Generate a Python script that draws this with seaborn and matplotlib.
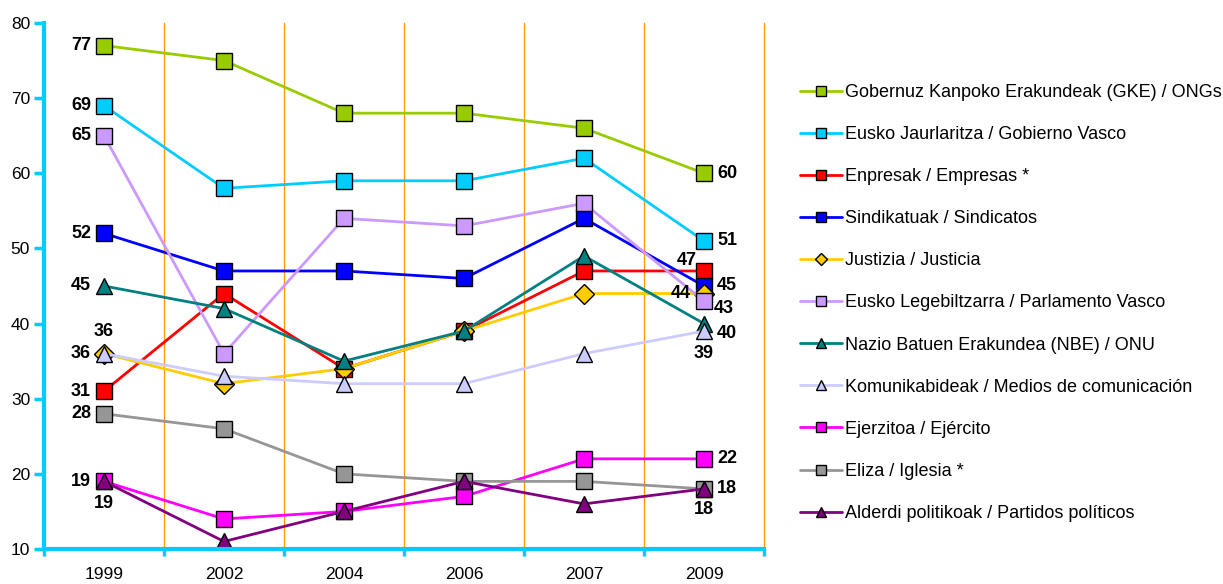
import matplotlib
matplotlib.use("Agg")
import matplotlib.pyplot as plt
from matplotlib.lines import Line2D
import numpy as np
import seaborn as sns

years = ["1999", "2002", "2004", "2006", "2007", "2009"]

series_names = [
    "Gobernuz Kanpoko Erakundeak (GKE) / ONGs",
    "Eusko Jaurlaritza / Gobierno Vasco",
    "Enpresak / Empresas *",
    "Sindikatuak / Sindicatos",
    "Justizia / Justicia",
    "Eusko Legebiltzarra / Parlamento Vasco",
    "Nazio Batuen Erakundea (NBE) / ONU",
    "Komunikabideak / Medios de comunicación",
    "Ejerzitoa / Ejército",
    "Eliza / Iglesia *",
    "Alderdi politikoak / Partidos políticos",
]

gke = [77, 75, 68, 68, 66, 60]
gobierno = [69, 58, 59, 59, 62, 51]
empresas = [31, 44, 34, 39, 47, 47]
sindicatos = [52, 47, 47, 46, 54, 45]
justicia = [36, 32, 34, 39, 44, 44]
parlamento = [65, 36, 54, 53, 56, 43]
onu = [45, 42, 35, 39, 49, 40]
medios = [36, 33, 32, 32, 36, 39]
ejercito = [19, 14, 15, 17, 22, 22]
iglesia = [28, 26, 20, 19, 19, 18]
partidos = [19, 11, 15, 19, 16, 18]

values = [gke, gobierno, empresas, sindicatos, justicia, parlamento,
          onu, medios, ejercito, iglesia, partidos]

colors = ["#99CC00", "#00CCFF", "#FF0000", "#0000FF", "#FFCC00", "#CC99FF",
          "#008080", "#CCCCFF", "#FF00FF", "#969696", "#800080"]
markers = ["s", "s", "s", "s", "D", "s", "^", "^", "s", "s", "^"]

# labelled points: (series index, year index), placement below
labelled = [(0, 0), (1, 0), (5, 0), (3, 0), (6, 0), (4, 0), (7, 0), (2, 0),
            (9, 0), (8, 0), (10, 0),
            (0, 5), (1, 5), (2, 5), (3, 5), (4, 5), (5, 5), (6, 5), (7, 5),
            (8, 5), (9, 5), (10, 5)]
placement = {
    (4, 0): (0, 22, "center"), (10, 0): (0, -22, "center"),
    (2, 5): (-17, 10, "center"), (4, 5): (-13, 0, "right"),
    (5, 5): (10, -7, "left"), (6, 5): (13, -10, "left"),
    (7, 5): (0, -22, "center"), (10, 5): (0, -21, "center"),
}

sns.set_style("white")
plt.rcParams["font.family"] = ["Liberation Sans", "DejaVu Sans"]
plt.rcParams["text.color"] = "black"
plt.rcParams["xtick.color"] = "black"
plt.rcParams["ytick.color"] = "black"

fig = plt.figure(figsize=(12.23, 5.84), dpi=100)
ax = fig.add_axes([44 / 1223, 1 - 549 / 584, 720 / 1223, 526 / 584])

x = np.arange(len(years))
for name, vals, c, m in zip(series_names, values, colors, markers):
    ms = 10 if m == "D" else 11.5
    sns.lineplot(x=x, y=vals, ax=ax, color=c, marker=m, markersize=ms,
                 markeredgecolor="black", markeredgewidth=1, linewidth=2,
                 legend=False, zorder=3)

for si, yi in labelled:
    v = values[si][yi]
    if (si, yi) in placement:
        dx, dy, ha = placement[(si, yi)]
    elif yi == 0:
        dx, dy, ha = -13, 0, "right"
    else:
        dx, dy, ha = 13, 0, "left"
    ax.annotate(str(v), (x[yi], v), xytext=(dx, dy), textcoords="offset pixels",
                ha=ha, va="center", fontsize=13, fontweight="bold",
                color="black", zorder=5)

for b in np.arange(0.5, len(years), 1):
    ax.axvline(b, color="#FF9900", linewidth=1, zorder=1, clip_on=False)

ax.set_xlim(-0.5, len(years) - 0.5)
ax.set_ylim(10, 80)
ax.set_yticks(range(10, 81, 10))
ax.set_xticks(x)
ax.set_xticklabels(years)
ax.set_xticks(np.arange(-0.5, len(years), 1), minor=True)
ax.tick_params(axis="x", which="major", bottom=False, length=0, labelsize=12.5,
               pad=13, labelcolor="black")
ax.tick_params(axis="x", which="minor", bottom=True, length=5, width=2.5,
               color="#00CCFF", direction="out")
ax.tick_params(axis="y", left=True, length=7, width=2.5, color="#00CCFF",
               direction="out", labelsize=12.5, pad=3, labelcolor="black")
ax.set_xlabel("")
ax.set_ylabel("")
for s in ["top", "right"]:
    ax.spines[s].set_visible(False)
for s in ["left", "bottom"]:
    ax.spines[s].set_color("#00CCFF")
    ax.spines[s].set_linewidth(3)
    ax.spines[s].set_zorder(4)

handles = [Line2D([], [], color=c, marker=m, markersize=7.5 if m != "D" else 6.5,
                  markeredgecolor="black", markeredgewidth=1, linewidth=2)
           for c, m in zip(colors, markers)]
fig.legend(handles, series_names, loc="upper left",
           bbox_to_anchor=(800 / 1223, 1 - 84 / 584), frameon=False,
           fontsize=13, handlelength=2.33, handletextpad=0.17,
           labelspacing=1.39, borderaxespad=0, borderpad=0)

fig.savefig("out.png", dpi=100)
